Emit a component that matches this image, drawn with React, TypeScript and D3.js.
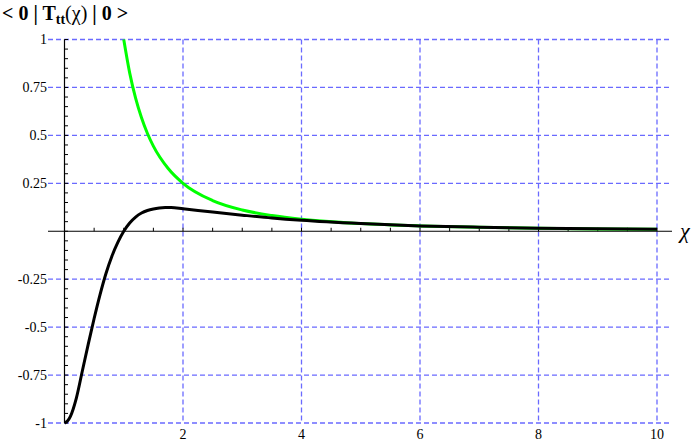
import React from "react";
import * as d3 from "d3";

const blackX = [0, 0.05, 0.1, 0.2, 0.3, 0.4, 0.5, 0.6, 0.7, 0.8, 0.9, 1.0, 1.1, 1.2, 1.3, 1.4, 1.5, 1.6, 1.7, 1.8, 2, 2.5, 3, 3.5, 4, 5, 6, 7, 8, 9, 10];
const blackY = [-1, -0.99, -0.965, -0.87, -0.73, -0.59, -0.455, -0.33, -0.22, -0.13, -0.058, 0.0, 0.043, 0.074, 0.095, 0.108, 0.116, 0.121, 0.1235, 0.1235, 0.117, 0.1, 0.084, 0.069, 0.057, 0.04, 0.028, 0.021, 0.016, 0.0125, 0.01];

const greenX = [1, 1.1, 1.2, 1.3, 1.4, 1.5, 1.75, 2, 2.5, 3, 3.5, 4, 5, 6, 7, 8, 9, 10];
const greenY = [1, 0.826, 0.694, 0.592, 0.51, 0.444, 0.327, 0.25, 0.16, 0.111, 0.082, 0.0625, 0.04, 0.0278, 0.0204, 0.0156, 0.0123, 0.01];

const xTicks = [2, 4, 6, 8, 10];
const yTicks = [-1, -0.75, -0.5, -0.25, 0.25, 0.5, 0.75, 1];
const yTickLabels = ["-1", "-0.75", "-0.5", "-0.25", "0.25", "0.5", "0.75", "1"];

export default function App() {
  const W = 692, H = 442;
  const x = d3.scaleLinear().domain([0, 10]).range([64.5, 657]);
  const y = d3.scaleLinear().domain([-1, 1]).range([423, 39.5]);

  const line = d3
    .line<[number, number]>()
    .x((d) => x(d[0]))
    .y((d) => y(d[1]))
    .curve(d3.curveMonotoneX);

  const black = blackX.map((v, i) => [v, blackY[i]] as [number, number]);
  const green = greenX.map((v, i) => [v, greenY[i]] as [number, number]);

  const gridColor = "#6a6aff";
  const gridLeft = 48;
  const gridRight = 672;

  const minorY = d3.range(-1, 1.0001, 0.05);
  const minorX = d3.range(0.5, 10.0001, 0.5);

  const serif = "Liberation Serif, Times New Roman, Times, DejaVu Serif, serif";
  const tf = { fontFamily: serif } as React.CSSProperties;

  return (
    <svg width={W} height={H} style={{ position: "absolute", left: 0, top: 0, background: "#fff" }}>
      {yTicks.map((t) => (
        <line key={"hg" + t} x1={gridLeft} x2={gridRight} y1={y(t)} y2={y(t)} stroke={gridColor} strokeWidth={1.3} strokeDasharray="5,3" />
      ))}
      {xTicks.map((t) => (
        <line key={"vg" + t} x1={x(t)} x2={x(t)} y1={y(1)} y2={y(-1)} stroke={gridColor} strokeWidth={1.3} strokeDasharray="5,3" />
      ))}
      <line x1={gridLeft} x2={gridRight} y1={y(0)} y2={y(0)} stroke="#000" strokeWidth={1.2} />
      <line x1={x(0)} x2={x(0)} y1={y(1)} y2={y(-1)} stroke="#000" strokeWidth={1.2} />
      {minorY.map((t, i) => (
        <line key={"my" + i} x1={x(0)} x2={x(0) + 3.5} y1={y(t)} y2={y(t)} stroke="#000" strokeWidth={1} />
      ))}
      {minorX.map((t, i) => (
        <line key={"mx" + i} x1={x(t)} x2={x(t)} y1={y(0)} y2={y(0) - 3.5} stroke="#000" strokeWidth={1} />
      ))}
      {yTicks.map((t, i) => (
        <text key={"yl" + t} x={47} y={y(t)} dy="0.35em" textAnchor="end" style={tf} fontSize={14} fill="#000">
          {yTickLabels[i]}
        </text>
      ))}
      {xTicks.map((t) => (
        <text key={"xl" + t} x={x(t)} y={439} textAnchor="middle" style={tf} fontSize={14} fill="#000">
          {String(t)}
        </text>
      ))}
      <path d={line(green) || ""} fill="none" stroke="#00ff00" strokeWidth={3} />
      <path d={line(black) || ""} fill="none" stroke="#000" strokeWidth={3} />
      <text x={680} y={238} style={{ fontFamily: serif, fontStyle: "italic" }} fontSize={22} fill="#000">χ</text>
      <text x={2} y={20} style={tf} fontSize={20} fontWeight="bold" fill="#000">
        {"< 0 | T"}
        <tspan fontSize={14} dy={4}>tt</tspan>
        <tspan dy={-4} fontWeight="normal">(χ)</tspan>
        {" | 0 >"}
      </text>
    </svg>
  );
}
